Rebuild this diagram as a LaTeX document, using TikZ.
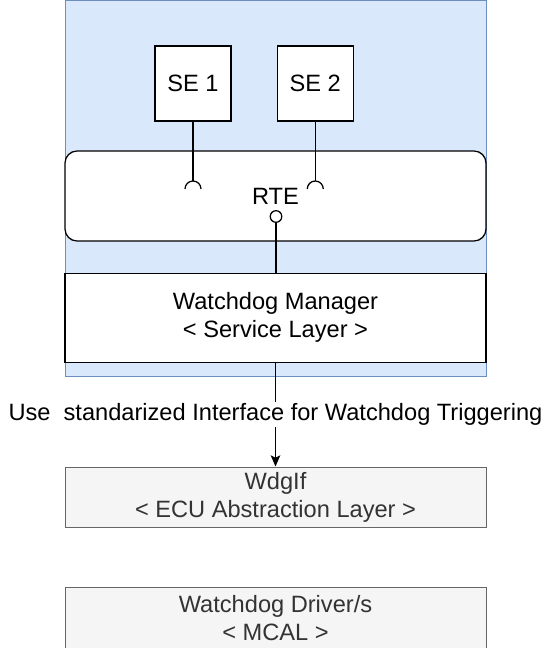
\documentclass[tikz,border=0pt]{standalone}
\usepackage{fontspec}
\setmainfont{Liberation Sans}
\usetikzlibrary{positioning, arrows.meta}
\definecolor{layerblue}{HTML}{DAE8FC}
\definecolor{layerline}{HTML}{6C8EBF}
\definecolor{boxgray}{HTML}{F5F5F5}
\definecolor{linegray}{HTML}{666666}
\definecolor{textgray}{HTML}{333333}

\begin{document}
\begin{tikzpicture}[line width=0.9pt,
        font=\fontsize{16.8}{19.9}\selectfont,
        swc/.style={draw, fill=white, rectangle, minimum width=1.9cm,
        minimum height=1.875cm, inner sep=0pt},
        layer/.style={draw, fill=white, rectangle, minimum width=10.525cm,
        text centered, align=center, inner sep=0pt},
        lowlayer/.style={layer, draw=linegray, fill=boxgray, text=textgray,
        line width=0.7pt, minimum height=1.5cm}]
        \useasboundingbox (0,0) rectangle (13.75,-16.2);
        \fill[layerblue, draw=layerline, line width=0.7pt] (1.625,0) rectangle (12.15,-9.4);
        \node[swc] (se1) at (4.825,-2.0875) {SE 1};
        \node[swc, right=1.125cm of se1] (se2) {SE 2};
        \node[layer, rounded corners=0.3cm, minimum height=2.25cm] (rte)
        at (6.8875,-4.9) {RTE};
        \node[layer, minimum height=2.225cm, below=0.775cm of rte] (wdm)
        {Watchdog Manager\\< Service Layer >};
        \node[lowlayer] (wdgif) at (6.8875,-12.425) {WdgIf\\< ECU Abstraction Layer >};
        \node[lowlayer, below=1.5cm of wdgif] (wdgdrv) {Watchdog Driver/s\\< MCAL >};
        % required ports of the SEs
        \coordinate (sock1) at (4.825,-4.525);
        \coordinate (sock2) at (se2.south |- sock1);
        \draw (se1) -- (sock1);
        \draw (se2) -- (sock2);
        \draw ([shift={(-0.2,-0.2)}]sock1) arc (180:0:0.2);
        \draw ([shift={(-0.2,-0.2)}]sock2) arc (180:0:0.2);
        % provided port of the RTE
        \node[circle, draw, fill=white, inner sep=0pt, minimum size=0.29cm]
        (port) at (6.9,-5.4125) {};
        \draw (port) -- (port |- wdm.north);
        \draw [-{Stealth[length=0.28cm,width=0.24cm,inset=0.06cm]}] (wdm) -- node[fill=white, inner sep=1pt]
        {Use\ \ standarized Interface for Watchdog Triggering} (wdgif);
    \end{tikzpicture}
\end{document}
